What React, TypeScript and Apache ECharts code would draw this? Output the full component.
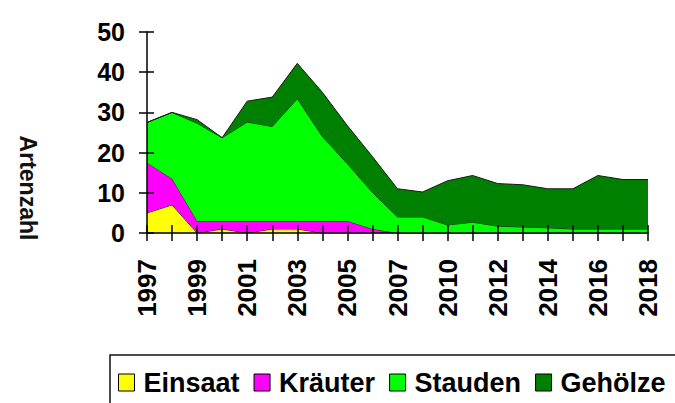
import React, { useEffect, useRef } from "react";
import * as echarts from "echarts";

const years = [
  "1997", "1998", "1999", "2000", "2001", "2002", "2003", "2004", "2005", "2006", "2007",
  "2008", "2010", "2011", "2012", "2013", "2014", "2015", "2016", "2017", "2018",
];
const einsaat = [5, 7, 0, 1, 0, 1, 1, 0, 0, 0, 0, 0, 0, 0, 0, 0, 0, 0, 0, 0, 0];
const kraeuter = [12.5, 6.5, 3, 2, 3, 2, 2, 3, 3, 1, 0, 0, 0, 0, 0, 0, 0, 0, 0, 0, 0];
const stauden = [10, 16.5, 24.3, 20.7, 24.6, 23.5, 30.4, 21, 14.2, 9.1, 4, 4, 2, 2.7, 1.7, 1.5, 1.3, 1, 1, 1, 1];
const gehoelze = [0, 0, 0.9, 0, 5.2, 7.3, 8.8, 11, 9.5, 8.9, 7, 6.2, 11, 11.6, 10.6, 10.5, 9.7, 10, 13.3, 12.3, 12.3];

const seriesNames = ["Einsaat", "Kräuter", "Stauden", "Gehölze"];
const seriesColors = ["#FFFF00", "#FF00FF", "#00FF00", "#008000"];
const seriesData = [einsaat, kraeuter, stauden, gehoelze];

const yTicks = { min: 0, max: 50, interval: 10 };

const FONT = "'Liberation Sans', Arial, sans-serif";

export default function App() {
  const ref = useRef<HTMLDivElement>(null);

  useEffect(() => {
    if (!ref.current) return;
    const chart = echarts.init(ref.current, null, { renderer: "svg" });
    const gridLeft = 147;
    const gridTop = 32;
    const gridWidth = 501;
    const gridHeight = 201;

    chart.setOption({
      animation: false,
      backgroundColor: "#ffffff",
      textStyle: { fontFamily: FONT },
      grid: { left: gridLeft, top: gridTop, width: gridWidth, height: gridHeight },
      legend: {
        data: seriesNames,
        left: 110,
        top: 355,
        width: 640,
        orient: "horizontal",
        icon: "rect",
        itemWidth: 16,
        itemHeight: 17,
        itemGap: 14,
        padding: [14, 40, 40, 8],
        borderColor: "#111",
        borderWidth: 1.5,
        itemStyle: { borderColor: "#000", borderWidth: 1 },
        textStyle: {
          fontFamily: FONT,
          fontSize: 27,
          fontWeight: "bold",
          color: "#000",
          padding: [0, 0, 0, 4],
        },
      },
      xAxis: [
        {
          type: "category",
          data: years,
          boundaryGap: false,
          z: 10,
          axisLine: { lineStyle: { color: "#000", width: 1.5 } },
          axisTick: { show: true, interval: 0, length: 8, lineStyle: { color: "#000", width: 1.5 } },
          axisLabel: {
            interval: 1,
            rotate: 90,
            margin: 26,
            fontSize: 26,
            fontWeight: "bold",
            color: "#000",
            fontFamily: FONT,
          },
          splitLine: { show: false },
        },
        {
          type: "category",
          data: years,
          boundaryGap: false,
          position: "top",
          offset: -gridHeight,
          z: 10,
          axisLine: { show: false },
          axisTick: { show: true, interval: 0, length: 8, lineStyle: { color: "#000", width: 1.5 } },
          axisLabel: { show: false },
          splitLine: { show: false },
        },
      ],
      yAxis: [
        {
          type: "value",
          min: yTicks.min,
          max: yTicks.max,
          interval: yTicks.interval,
          z: 10,
          axisLine: { show: true, lineStyle: { color: "#000", width: 1.5 } },
          axisTick: { show: true, length: 8, lineStyle: { color: "#000", width: 1.5 } },
          axisLabel: {
            margin: 22,
            fontSize: 25,
            fontWeight: "bold",
            color: "#000",
            fontFamily: FONT,
          },
          splitLine: { show: false },
        },
        {
          type: "value",
          min: yTicks.min,
          max: yTicks.max,
          interval: yTicks.interval,
          position: "right",
          offset: -gridWidth,
          z: 10,
          axisLine: { show: false },
          axisTick: { show: true, length: 7, lineStyle: { color: "#000", width: 1.5 } },
          axisLabel: { show: false },
          splitLine: { show: false },
        },
      ],
      graphic: [
        {
          type: "text",
          x: 28,
          y: 188,
          rotation: -Math.PI / 2,
          style: {
            text: "Artenzahl",
            font: `bold 23px ${FONT}`,
            fill: "#111",
            align: "center",
            verticalAlign: "middle",
            textAlign: "center",
            textVerticalAlign: "middle",
          },
        },
      ],
      series: seriesNames.map((name, i) => ({
        name,
        type: "line",
        stack: "total",
        data: seriesData[i],
        symbol: "none",
        showSymbol: false,
        xAxisIndex: 0,
        yAxisIndex: 0,
        z: 2 + i * 0.01,
        itemStyle: { color: seriesColors[i] },
        lineStyle: { color: "#1a1a1a", width: 1 },
        areaStyle: { color: seriesColors[i], opacity: 1 },
      })),
    });

    return () => {
      chart.dispose();
    };
  }, []);

  return (
    <div
      ref={ref}
      style={{ position: "fixed", left: 0, top: 0, width: 675, height: 403, background: "#fff" }}
    />
  );
}
